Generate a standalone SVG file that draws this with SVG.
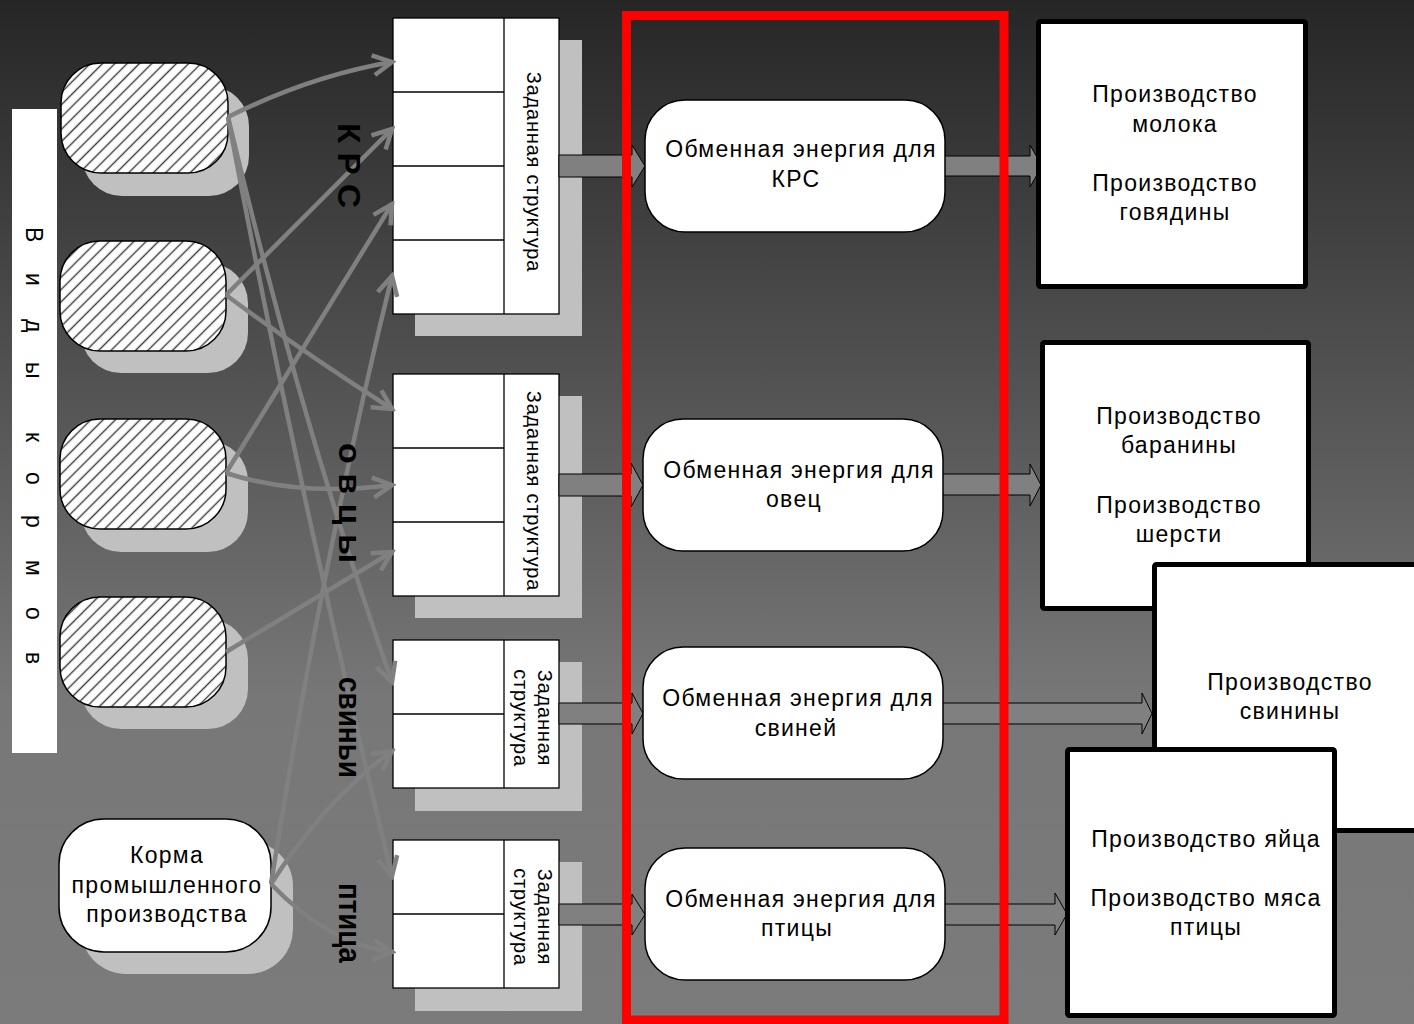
<svg xmlns="http://www.w3.org/2000/svg" width="1414" height="1024" viewBox="0 0 1414 1024">
<defs>
<linearGradient id="bg" x1="0" y1="0" x2="0" y2="1">
<stop offset="0" stop-color="#262626"/>
<stop offset="0.68" stop-color="#777777"/>
<stop offset="1" stop-color="#7b7b7b"/>
</linearGradient>
<pattern id="hatch" width="8.7" height="8.7" patternUnits="userSpaceOnUse" patternTransform="rotate(-45)">
<rect width="8.7" height="8.7" fill="#ffffff"/>
<line x1="0" y1="4.35" x2="8.7" y2="4.35" stroke="#3a3a3a" stroke-width="1.4"/>
</pattern>
<marker id="ah" viewBox="-24 -14 28 28" markerWidth="28" markerHeight="28" refX="0" refY="0" orient="auto" markerUnits="userSpaceOnUse">
<path d="M-19,-10 L0,0 L-19,10" fill="none" stroke="#808080" stroke-width="4.5" stroke-linejoin="miter"/>
</marker>
<style>
.sh{fill:#c0c0c0}
.hn{fill:url(#hatch);stroke:#000;stroke-width:1.5}
.wn{fill:#fff;stroke:#000;stroke-width:1.5}
.cell{fill:#fff;stroke:#000;stroke-width:1.3}
.ln{stroke:#000;stroke-width:1.3}
.pb{fill:#fff;stroke:#000;stroke-width:5}
.con{fill:none;stroke:#808080;stroke-width:4.5;marker-end:url(#ah)}
.blk{fill:#808080;stroke:#000;stroke-width:1}
.t{font-family:"Liberation Sans",Arial,sans-serif;font-size:23px;letter-spacing:1.3px;text-anchor:middle;fill:#000}
.st{font-family:"Liberation Sans",Arial,sans-serif;font-size:20px;letter-spacing:0.8px;text-anchor:middle;fill:#000}
.vb{font-family:"Liberation Sans",Arial,sans-serif;font-size:31px;font-weight:bold;fill:#000}
.lv{font-family:"Liberation Sans",Arial,sans-serif;font-size:23px;fill:#000}
</style>
</defs>

<rect width="1414" height="1024" fill="url(#bg)"/>

<g id="label-vidy">
<rect x="12" y="109" width="45" height="644" fill="#fff"/>
<text class="lv" transform="translate(26,0) rotate(90)" x="227 245 273 290 319 335 362 400 432 450 472 490 515 535 560 585 607 630 652" y="0">В и д ы к о р м о в</text>
</g>

<g id="feed1"><rect class="sh" x="82" y="86" width="167" height="110" rx="40"/><rect class="hn" x="61" y="63" width="167" height="110" rx="40"/></g>
<g id="feed2"><rect class="sh" x="81" y="263" width="167" height="110" rx="40"/><rect class="hn" x="60" y="241" width="166" height="110" rx="40"/></g>
<g id="feed3"><rect class="sh" x="81" y="441" width="167" height="111" rx="40"/><rect class="hn" x="60" y="419" width="166" height="110" rx="40"/></g>
<g id="feed4"><rect class="sh" x="81" y="619" width="167" height="110" rx="40"/><rect class="hn" x="60" y="597" width="166" height="110" rx="40"/></g>
<g id="feed-industrial">
<rect class="sh" x="81" y="841" width="212" height="133" rx="45"/>
<rect class="wn" x="59" y="819" width="212" height="133" rx="45"/>
<text class="t" x="167" y="863">Корма</text>
<text class="t" x="167" y="893">промышленного</text>
<text class="t" x="167" y="922">производства</text>
</g>

<g id="struct-krs">
<rect class="sh" x="415" y="40" width="167" height="296"/>
<rect class="cell" x="393" y="18" width="166" height="296"/>
<line class="ln" x1="504" y1="18" x2="504" y2="314"/>
<line class="ln" x1="393" y1="92" x2="504" y2="92"/>
<line class="ln" x1="393" y1="166" x2="504" y2="166"/>
<line class="ln" x1="393" y1="240" x2="504" y2="240"/>
<text class="st" transform="translate(527,172) rotate(90)">Заданная структура</text>
</g>
<g id="struct-ovcy">
<rect class="sh" x="415" y="396" width="167" height="222"/>
<rect class="cell" x="393" y="374" width="166" height="222"/>
<line class="ln" x1="504" y1="374" x2="504" y2="596"/>
<line class="ln" x1="393" y1="448" x2="504" y2="448"/>
<line class="ln" x1="393" y1="522" x2="504" y2="522"/>
<text class="st" transform="translate(527,491) rotate(90)">Заданная структура</text>
</g>
<g id="struct-svini">
<rect class="sh" x="415" y="662" width="167" height="149"/>
<rect class="cell" x="393" y="640" width="166" height="148"/>
<line class="ln" x1="504" y1="640" x2="504" y2="788"/>
<line class="ln" x1="393" y1="714" x2="504" y2="714"/>
<text class="st" transform="translate(538,718) rotate(90)"><tspan x="0" y="0">Заданная</tspan><tspan x="0" y="24">структура</tspan></text>
</g>
<g id="struct-ptica">
<rect class="sh" x="415" y="862" width="167" height="149"/>
<rect class="cell" x="393" y="840" width="166" height="148"/>
<line class="ln" x1="504" y1="840" x2="504" y2="988"/>
<line class="ln" x1="393" y1="914" x2="504" y2="914"/>
<text class="st" transform="translate(538,917) rotate(90)"><tspan x="0" y="0">Заданная</tspan><tspan x="0" y="24">структура</tspan></text>
</g>

<g id="connectors">
<path class="con" d="M228,117 Q310,76 392,62"/>
<path class="con" d="M226,295 L392,129"/>
<path class="con" d="M226,473 L392,204"/>
<path class="con" d="M271,884 Q322,560 392,276"/>
<path class="con" d="M228,117 Q300,420 392,682"/>
<path class="con" d="M228,117 Q300,500 392,876"/>
<path class="con" d="M226,295 Q300,350 392,409"/>
<path class="con" d="M226,473 Q300,497 392,485"/>
<path class="con" d="M226,652 L392,552"/>
<path class="con" d="M271,884 Q325,800 392,751"/>
<path class="con" d="M271,884 Q330,945 392,952"/>
<path class="blk" d="M559,155 H632 V145 L645,166 L632,187 V177 H559 Z"/>
<path class="blk" d="M559,474 H631 V463 L643,485 L631,507 V496 H559 Z"/>
<path class="blk" d="M559,703 H632 V693 L643,713.5 L632,734 V724 H559 Z"/>
<path class="blk" d="M559,904 H632 V894 L645,914.5 L632,935 V925 H559 Z"/>
<path class="blk" d="M940,156 H1030 V145 L1042,166 L1030,187 V176 H940 Z"/>
<path class="blk" d="M938,474 H1030 V464 L1041,485 L1030,506 V495 H938 Z"/>
<path class="blk" d="M938,703 H1142 V693 L1152,713.5 L1142,734 V724 H938 Z"/>
<path class="blk" d="M940,904 H1055 V893 L1067,914 L1055,935 V925 H940 Z"/>
</g>

<g id="label-krs"><text class="vb" transform="translate(338,123) rotate(90)" textLength="85" lengthAdjust="spacingAndGlyphs">К Р С</text></g>
<g id="label-ovcy"><text class="vb" transform="translate(339,443) rotate(90)" textLength="120" lengthAdjust="spacingAndGlyphs">о в ц ы</text></g>
<g id="label-svini"><text class="vb" transform="translate(339,677) rotate(90)" textLength="101" lengthAdjust="spacingAndGlyphs">свиньи</text></g>
<g id="label-ptica"><text class="vb" transform="translate(339,883) rotate(90)" textLength="80" lengthAdjust="spacingAndGlyphs">птица</text></g>

<g id="energy-krs"><rect class="wn" x="645" y="100" width="300" height="132" rx="40"/>
<text class="t" x="801" y="157">Обменная энергия для</text><text class="t" x="796" y="187">КРС</text></g>
<g id="energy-ovcy"><rect class="wn" x="643" y="419" width="300" height="132" rx="40"/>
<text class="t" x="799" y="478">Обменная энергия для</text><text class="t" x="794" y="507">овец</text></g>
<g id="energy-svini"><rect class="wn" x="643" y="647" width="300" height="132" rx="40"/>
<text class="t" x="798" y="706">Обменная энергия для</text><text class="t" x="796" y="736">свиней</text></g>
<g id="energy-ptica"><rect class="wn" x="645" y="848" width="300" height="132" rx="40"/>
<text class="t" x="801" y="907">Обменная энергия для</text><text class="t" x="797" y="936">птицы</text></g>

<rect id="highlight" x="626.5" y="15.5" width="377.5" height="1004.5" fill="none" stroke="#ff0000" stroke-width="9"/>

<g id="prod-krs"><rect class="pb" x="1038.5" y="21.5" width="267" height="265" rx="2"/>
<text class="t" x="1175" y="102">Производство</text><text class="t" x="1175" y="131.5">молока</text>
<text class="t" x="1175" y="190.5">Производство</text><text class="t" x="1175" y="220">говядины</text></g>
<g id="prod-ovcy"><rect class="pb" x="1042.5" y="342.5" width="266" height="266" rx="2"/>
<text class="t" x="1179" y="424">Производство</text><text class="t" x="1179" y="453">баранины</text>
<text class="t" x="1179" y="513">Производство</text><text class="t" x="1179" y="542">шерсти</text></g>
<g id="prod-svini"><rect class="pb" x="1154.5" y="564.5" width="275" height="266" rx="2"/>
<text class="t" x="1290" y="690">Производство</text><text class="t" x="1290" y="719">свинины</text></g>
<g id="prod-ptica"><rect class="pb" x="1067.5" y="749.5" width="267" height="266" rx="2"/>
<text class="t" x="1206" y="847">Производство яйца</text>
<text class="t" x="1206" y="906">Производство мяса</text><text class="t" x="1206" y="935">птицы</text></g>
</svg>
